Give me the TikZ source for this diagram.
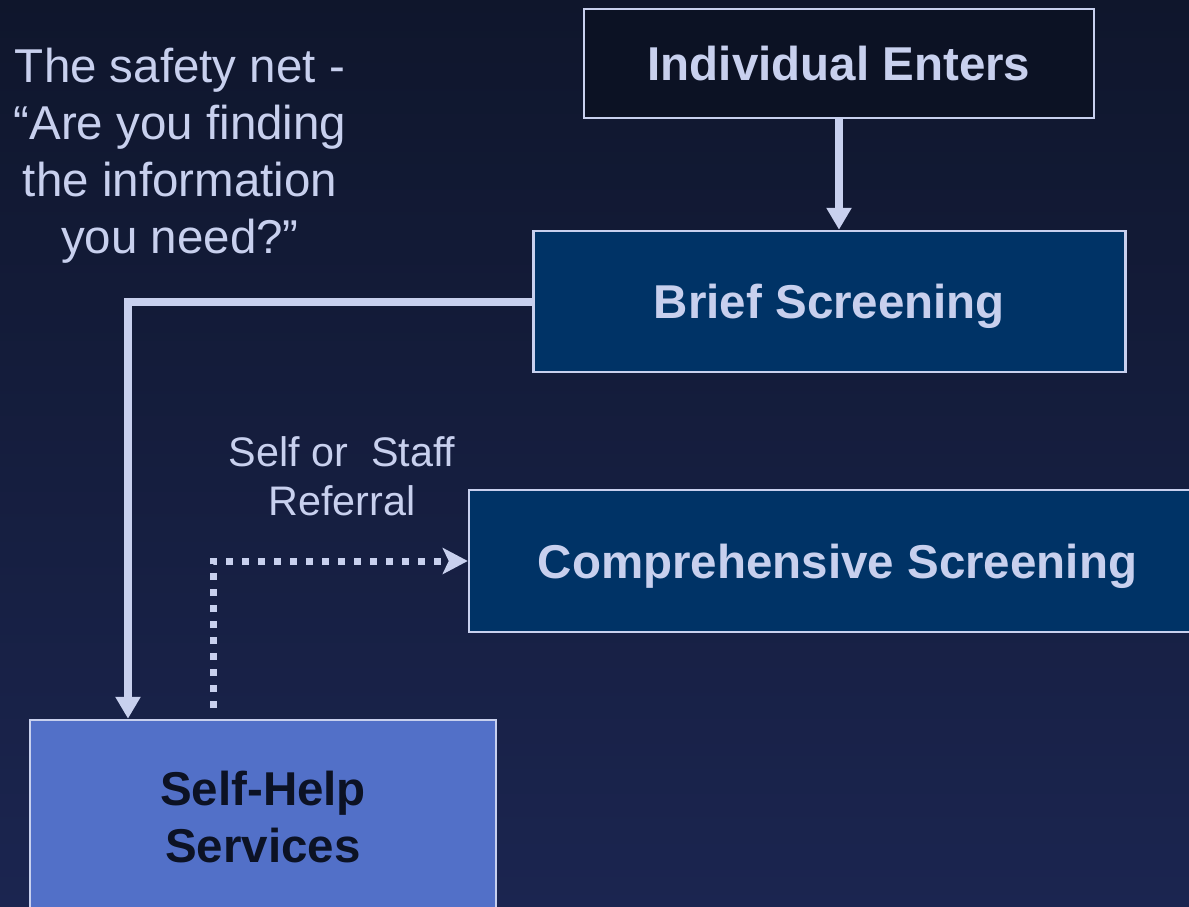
\documentclass[tikz,border=0pt]{standalone}
\usepackage{fontspec}
\setmainfont{Liberation Sans}
\usetikzlibrary{arrows.meta,calc}
\definecolor{lav}{RGB}{200,208,238}
\definecolor{indfill}{RGB}{12,18,36}
\definecolor{brieffill}{RGB}{0,51,102}
\definecolor{selffill}{RGB}{82,112,200}
\definecolor{selftext}{RGB}{12,18,36}
\definecolor{bgtop}{RGB}{15,22,44}
\definecolor{bgbot}{RGB}{27,37,80}
\begin{document}
\begin{tikzpicture}[x=1pt,y=-1pt,
  box/.style={draw=lav,line width=2.5pt,inner sep=0pt,align=center,font=\bfseries\fontsize{47.5}{57}\selectfont},
  onebox/.style={box,text=lav,text height=34pt,text depth=0pt},
  txt/.style={text=lav,align=center,inner sep=0pt},
  flow/.style={draw=lav,line width=8pt,-{Triangle[width=24pt,length=22pt]}},
  refer/.style={draw=lav,line width=7pt,dash pattern=on 7pt off 9pt,-{Stealth[width=26pt,length=25pt,inset=6pt]}}]

\useasboundingbox (0,0) rectangle (1189,907);
\shade[top color=bgtop,bottom color=bgbot] (0,0) rectangle (1189,907);

\node[onebox,fill=indfill,minimum width=510pt,minimum height=109pt] (ind) at (839,63.5) {Individual Enters};
\node[onebox,fill=brieffill,minimum width=592pt,minimum height=141pt] (brief) at (829.5,301.5) {Brief Screening};
\node[onebox,fill=brieffill,minimum width=737pt,minimum height=142pt] (comp) at (837.5,561) {Comprehensive Screening};
\node[box,fill=selffill,text=selftext,minimum width=466pt,minimum height=194pt] (self) at (263,817) {Self-Help\\Services};

\node[txt,font=\fontsize{47.5}{57}\selectfont] (net) at (180,156) {The safety net -\\“Are you finding\\the information\\you need?”};
\node[txt,font=\fontsize{41.3}{49}\selectfont] (lbl) at (342,476) {Self or\ \ Staff\\Referral};

\draw[flow] (ind.south) -- (ind.south |- brief.north);
\coordinate (bend) at (128,301.5);
\draw[flow] (brief.west) -- (bend) -- (bend |- self.north);
\coordinate (dstart) at (213,708);
\coordinate (dbend) at (213,561);
\draw[refer] (dstart) -- (dbend) -- (comp.west);
\end{tikzpicture}
\end{document}
